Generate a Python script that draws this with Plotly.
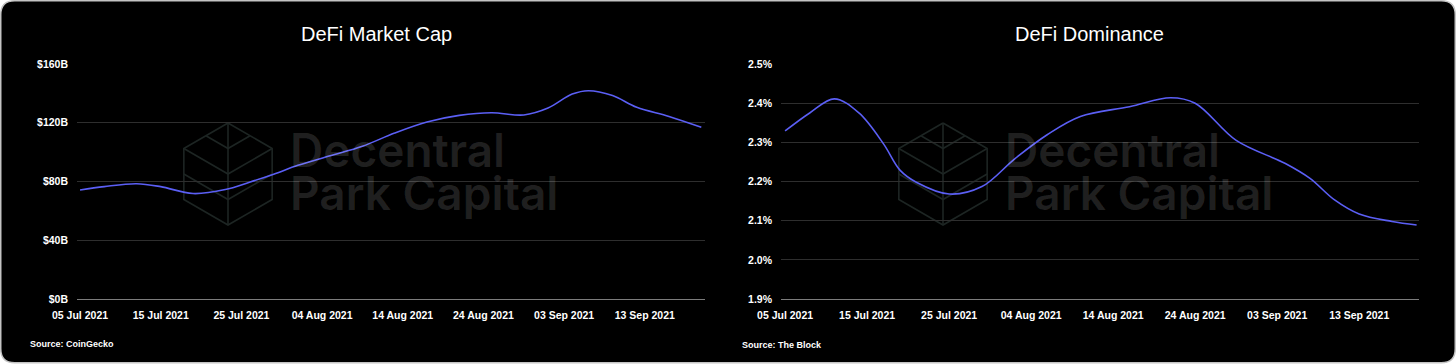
import plotly.graph_objects as go

W, H = 1456, 364

# ---------------- data ----------------
mcap_dates = ["2021-07-05", "2021-07-08", "2021-07-12", "2021-07-15", "2021-07-19",
              "2021-07-23", "2021-07-26", "2021-07-29", "2021-08-01", "2021-08-05",
              "2021-08-09", "2021-08-13", "2021-08-17", "2021-08-21", "2021-08-25",
              "2021-08-29", "2021-09-01", "2021-09-04", "2021-09-06", "2021-09-09",
              "2021-09-12", "2021-09-16", "2021-09-20"]
mcap_values = [74.2, 76.5, 78.5, 76.5, 71.8, 74.5, 79.5, 85.0, 91.0, 97.5,
               104.0, 113.0, 120.5, 125.0, 126.8, 125.3, 130.0, 139.5, 141.8, 138.5,
               130.5, 124.3, 116.9]

dom_dates = ["2021-07-05", "2021-07-08", "2021-07-11", "2021-07-14", "2021-07-17",
             "2021-07-19", "2021-07-21", "2021-07-25", "2021-07-29", "2021-08-02",
             "2021-08-06", "2021-08-10", "2021-08-16", "2021-08-21", "2021-08-24",
             "2021-08-29", "2021-09-04", "2021-09-07", "2021-09-10", "2021-09-13",
             "2021-09-17", "2021-09-20"]
dom_values = [2.329, 2.375, 2.411, 2.375, 2.296, 2.229, 2.198, 2.168, 2.187, 2.258,
              2.320, 2.366, 2.391, 2.414, 2.400, 2.305, 2.246, 2.208, 2.153, 2.117,
              2.098, 2.089]

mcap_ticks = [0, 40, 80, 120, 160]
mcap_ticklabels = ["$0B", "$40B", "$80B", "$120B", "$160B"]
dom_ticks = [1.9, 2.0, 2.1, 2.2, 2.3, 2.4, 2.5]
dom_ticklabels = ["1.9%", "2.0%", "2.1%", "2.2%", "2.3%", "2.4%", "2.5%"]

titles = ["DeFi Market Cap", "DeFi Dominance"]
sources = ["Source: CoinGecko", "Source: The Block"]

# ---------------- styling ----------------
LINE_COLOR = "#5b5ff5"
GRID = "#2e2e2e"
AXISLINE = "#7c7c7c"
TICKFONT = dict(family="Liberation Sans", size=10.5, color="#ffffff", weight="bold")

def px(x):
    return x / W

def py(y):
    return 1 - y / H

fig = go.Figure()
fig.add_trace(go.Scatter(x=mcap_dates, y=mcap_values, mode="lines",
                         line=dict(color=LINE_COLOR, width=1.6, shape="spline", smoothing=1.0),
                         xaxis="x", yaxis="y", showlegend=False, hoverinfo="skip"))
fig.add_trace(go.Scatter(x=dom_dates, y=dom_values, mode="lines",
                         line=dict(color=LINE_COLOR, width=1.6, shape="spline", smoothing=1.0),
                         xaxis="x2", yaxis="y2", showlegend=False, hoverinfo="skip"))

DAY_MS = 86400000
xcommon = dict(type="date", tick0="2021-07-05", dtick=10 * DAY_MS, tickformat="%d %b %Y",
               showgrid=False, showline=True, linecolor=AXISLINE, linewidth=1,
               ticks="", tickfont=TICKFONT, zeroline=False, ticklabelstandoff=6,
               automargin=False)
ycommon = dict(showgrid=True, gridcolor=GRID, gridwidth=1, zeroline=False, showline=False,
               ticks="", tickfont=TICKFONT, ticklabelstandoff=8, automargin=False)

fig.update_layout(
    width=W, height=H,
    margin=dict(l=0, r=0, t=0, b=0, pad=0, autoexpand=False),
    paper_bgcolor="#ffffff",
    plot_bgcolor="rgba(0,0,0,0)",
    showlegend=False,
    xaxis=dict(domain=[px(77), px(705)], anchor="y",
               range=["2021-07-04 15:00", "2021-09-20 11:00"], **xcommon),
    yaxis=dict(domain=[py(299), py(64)], anchor="x", range=[0, 160],
               tickvals=mcap_ticks, ticktext=mcap_ticklabels, **ycommon),
    xaxis2=dict(domain=[px(781), px(1419)], anchor="y2",
                range=["2021-07-04 12:00", "2021-09-20 07:00"], **xcommon),
    yaxis2=dict(domain=[py(299), py(64)], anchor="x2", range=[1.9, 2.5],
                tickvals=dom_ticks, ticktext=dom_ticklabels, **ycommon),
)

shapes = []
# rounded black card
x0, y0, x1, y1, r = 0.75, 0.75, 1455.25, 362.75, 14
path = (f"M {px(x0 + r)},{py(y0)} L {px(x1 - r)},{py(y0)} "
        f"Q {px(x1)},{py(y0)} {px(x1)},{py(y0 + r)} "
        f"L {px(x1)},{py(y1 - r)} Q {px(x1)},{py(y1)} {px(x1 - r)},{py(y1)} "
        f"L {px(x0 + r)},{py(y1)} Q {px(x0)},{py(y1)} {px(x0)},{py(y1 - r)} "
        f"L {px(x0)},{py(y0 + r)} Q {px(x0)},{py(y0)} {px(x0 + r)},{py(y0)} Z")
shapes.append(dict(type="path", xref="paper", yref="paper", path=path,
                   fillcolor="#000000", line=dict(color="#c4c4c4", width=1.5), layer="below"))

# watermark cube logos
def cube(cx, cy, R):
    hx = 0.866 * R
    P = lambda a, b: f"{px(cx + a * hx)},{py(cy + b * R)}"
    segs = [
        [(0, -1), (1, -0.5), (1, 0.5), (0, 1), (-1, 0.5), (-1, -0.5), (0, -1)],
        [(-1, -0.5), (0, 0), (1, -0.5)],
        [(0, -1), (0, 1)],
        [(-0.5, -0.75), (0, -0.5), (0.5, -0.75)],
        [(-1, 0), (0, 0.5), (1, 0)],
    ]
    out = []
    for s in segs:
        d = "M " + " L ".join(P(a, b) for a, b in s)
        out.append(dict(type="path", xref="paper", yref="paper", path=d,
                        line=dict(color="#1d2523", width=1.6), layer="below"))
    return out

shapes += cube(228, 174, 51)
shapes += cube(943, 174, 51)
fig.update_layout(shapes=shapes)

annotations = []
WM = dict(family="Inter", size=46, color="rgba(255,255,255,0.13)", weight=600)
for xl in (288, 1003):
    annotations.append(dict(xref="paper", yref="paper", x=px(xl), y=py(150), text="Decentral",
                            showarrow=False, xanchor="left", yanchor="middle", font=WM))
    annotations.append(dict(xref="paper", yref="paper", x=px(xl), y=py(193), text="Park Capital",
                            showarrow=False, xanchor="left", yanchor="middle", font=WM))

TF = dict(family="Liberation Sans", size=20, color="#ffffff")
annotations.append(dict(xref="paper", yref="paper", x=px(376), y=py(34), text=titles[0],
                        showarrow=False, xanchor="center", yanchor="middle", font=TF))
annotations.append(dict(xref="paper", yref="paper", x=px(1089), y=py(34), text=titles[1],
                        showarrow=False, xanchor="center", yanchor="middle", font=TF))

SF = dict(family="Liberation Sans", size=9, color="#ffffff", weight="bold")
annotations.append(dict(xref="paper", yref="paper", x=px(28), y=py(344), text=sources[0],
                        showarrow=False, xanchor="left", yanchor="middle", font=SF))
annotations.append(dict(xref="paper", yref="paper", x=px(740), y=py(345), text=sources[1],
                        showarrow=False, xanchor="left", yanchor="middle", font=SF))
fig.update_layout(annotations=annotations)

fig.write_html("out.html",
               config={"displayModeBar": False},
               post_script="document.body.style.margin='0';document.body.style.padding='0';")
